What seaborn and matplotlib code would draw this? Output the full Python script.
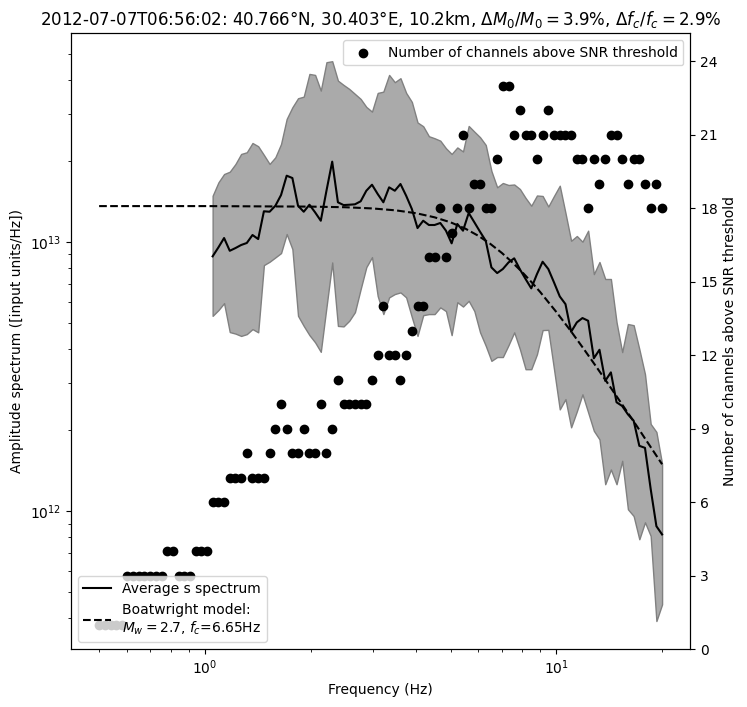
"""
Spectrum of the s-wave with Boatwright fit and SNR channel count
"""

import numpy as np
import matplotlib
matplotlib.use('Agg')
import matplotlib.pyplot as plt
import seaborn as sns

# Frequency grid (Hz)
FREQ = [0.500, 0.519, 0.539, 0.559, 0.580, 0.602, 0.625, 0.649, 0.673, 0.699,
        0.725, 0.753, 0.781, 0.811, 0.842, 0.874, 0.907, 0.941, 0.977, 1.014,
        1.052, 1.093, 1.134, 1.177, 1.222, 1.268, 1.316, 1.366, 1.418, 1.472,
        1.528, 1.587, 1.647, 1.709, 1.774, 1.841, 1.911, 1.984, 2.059, 2.137,
        2.218, 2.303, 2.391, 2.481, 2.575, 2.673, 2.775, 2.880, 2.989, 3.103,
        3.220, 3.344, 3.471, 3.602, 3.739, 3.881, 4.028, 4.181, 4.340, 4.504,
        4.676, 4.853, 5.037, 5.228, 5.427, 5.633, 5.846, 6.068, 6.298, 6.537,
        6.788, 7.045, 7.312, 7.590, 7.878, 8.177, 8.487, 8.809, 9.143, 9.490,
        9.851, 10.23, 10.62, 11.02, 11.44, 11.87, 12.32, 12.79, 13.27, 13.78,
        14.30, 14.84, 15.40, 15.99, 16.60, 17.23, 17.88, 18.56, 19.27, 20.00]

# Number of channels above SNR threshold, one per frequency
N_CHANNELS = [1, 1, 1, 1, 1, 3, 3, 3, 3, 3,
              3, 3, 4, 4, 3, 3, 3, 4, 4, 4,
              6, 6, 6, 7, 7, 7, 8, 7, 7, 7,
              8, 9, 10, 9, 8, 8, 9, 8, 8, 10,
              8, 9, 11, 10, 10, 10, 10, 10, 11, 12,
              14, 12, 12, 11, 12, 13, 14, 14, 16, 16,
              18, 16, 17, 18, 21, 18, 19, 19, 18, 18,
              20, 23, 23, 21, 22, 21, 21, 20, 21, 22,
              21, 21, 21, 21, 20, 20, 18, 20, 19, 20,
              21, 21, 20, 19, 20, 20, 19, 18, 19, 18]

# Spectrum starts at the 21st frequency (~1.05 Hz); values in 1e12 input units/Hz
SPEC_START = 20
SPEC_MEAN = [8.85, 9.56, 10.35, 9.28, 9.50, 9.75, 9.92, 10.62, 10.26, 13.01,
             12.96, 13.64, 14.95, 17.64, 17.29, 13.64, 12.96, 13.76, 12.89, 12.00,
             15.51, 19.89, 14.05, 13.72, 13.76, 13.81, 14.17, 15.51, 16.33, 15.08,
             14.05, 15.97, 15.51, 16.43, 14.86, 13.27, 11.27, 12.00, 11.57, 11.57,
             11.77, 11.02, 9.89, 11.67, 11.02, 12.82, 11.84, 10.92, 10.11, 8.05,
             7.67, 7.94, 8.40, 8.70, 7.92, 7.29, 6.73, 7.60, 8.45, 7.94,
             7.08, 6.28, 5.88, 4.64, 5.03, 5.22, 5.10, 3.70, 3.98, 3.05,
             3.28, 2.54, 2.46, 2.29, 2.17, 1.75, 1.72, 1.21, 0.88, 0.82]
SPEC_HIGH = [14.86, 16.67, 17.89, 18.25, 19.50, 21.24, 21.55, 23.33, 22.69, 21.06,
             19.50, 20.65, 23.13, 28.66, 31.67, 34.21, 34.68, 42.12, 41.76, 36.52,
             46.56, 46.96, 39.77, 38.33, 37.05, 35.50, 34.01, 31.76, 30.51, 35.80,
             36.20, 41.76, 39.24, 40.61, 35.80, 33.15, 27.81, 26.92, 24.72, 24.30,
             23.80, 22.30, 21.24, 22.46, 21.70, 26.99, 25.70, 24.51, 22.94, 18.36,
             15.97, 16.57, 16.29, 16.36, 15.74, 14.58, 13.64, 14.89, 14.83, 13.55,
             14.83, 16.19, 12.82, 10.11, 10.53, 10.03, 11.02, 7.60, 8.43, 7.29,
             7.29, 5.04, 3.90, 4.96, 4.91, 4.00, 3.23, 2.11, 1.97, 1.50]
SPEC_LOW = [5.32, 5.59, 5.93, 4.63, 4.57, 4.48, 4.55, 4.75, 4.62, 8.21,
            8.45, 8.77, 9.10, 10.71, 9.42, 5.32, 4.88, 4.51, 4.24, 3.91,
            5.73, 8.40, 4.88, 4.86, 5.10, 5.49, 6.69, 8.07, 8.79, 6.30,
            5.40, 6.23, 6.41, 6.50, 6.23, 5.26, 4.48, 5.35, 5.40, 5.40,
            5.72, 5.54, 4.51, 5.98, 5.76, 6.05, 5.54, 4.62, 4.12, 3.62,
            3.74, 3.74, 4.14, 4.62, 4.00, 3.37, 3.37, 3.83, 4.71, 4.72,
            3.37, 2.39, 2.61, 2.05, 2.35, 2.72, 2.33, 1.99, 1.85, 1.26,
            1.43, 1.26, 1.54, 1.017, 0.96, 0.787, 0.91, 0.81, 0.391, 0.451]

# Boatwright model curve (Mw 2.7, fc 6.65 Hz), values in 1e12 units
MODEL_FREQ = [0.5, 1.0, 2.0, 2.5, 3.0, 3.5, 4.0, 4.5, 5.0, 5.5, 6.0, 6.5, 7.0, 7.5,
              8.0, 8.5, 9.0, 10.0, 11.0, 12.0, 13.0, 14.0, 15.0, 16.0, 17.0,
              18.0, 19.0, 20.0]
MODEL_AMP = [13.60, 13.60, 13.54, 13.47, 13.33, 13.11, 12.79, 12.36, 11.84, 11.23,
             10.55, 9.83, 9.11, 8.40, 7.73, 7.10, 6.52, 5.50, 4.67, 3.99, 3.44,
             2.99, 2.62, 2.315, 2.06, 1.839, 1.654, 1.495]

UNIT = 1e12

TITLE = ('2012-07-07T06:56:02: 40.766°N, 30.403°E, 10.2km, '
         r'$\Delta M_0/M_0=3.9\%$, $\Delta f_c/f_c=2.9\%$')


def main():
    f_spec = np.array(FREQ[SPEC_START:])
    mean = np.array(SPEC_MEAN) * UNIT
    high = np.array(SPEC_HIGH) * UNIT
    low = np.array(SPEC_LOW) * UNIT

    fig = plt.figure(figsize=(7.47, 7.07), dpi=100)
    ax = fig.add_axes([0.095, 0.082, 0.829, 0.871])
    ax.set_xscale('log')
    ax.set_yscale('log')

    # полоса разброса спектров
    ax.fill_between(f_spec, low, high, facecolor='#aaaaaa', edgecolor='#808080', linewidth=1)

    sns.lineplot(x=f_spec, y=mean, ax=ax, color='k', linewidth=1.5,
                 estimator=None, sort=False, label='Average s spectrum')
    sns.lineplot(x=MODEL_FREQ, y=np.array(MODEL_AMP) * UNIT, ax=ax, color='k',
                 linestyle='--', linewidth=1.5, estimator=None, sort=False,
                 label='Boatwright model:\n$M_w=2.7$, $f_c$=6.65Hz')
    handles, labels = ax.get_legend_handles_labels()
    if ax.get_legend() is not None:
        ax.get_legend().remove()

    ax.set_xlabel('Frequency (Hz)')
    ax.set_ylabel('Amplitude spectrum ([input units/Hz])')
    ax.set_title(TITLE, fontsize=12)

    # число каналов на второй оси
    ax2 = ax.twinx()
    sns.scatterplot(x=FREQ, y=N_CHANNELS, ax=ax2, color='k', s=36,
                    edgecolor='k', linewidth=1, zorder=3,
                    label='Number of channels above SNR threshold')
    ax2.set_ylim(0, 25.15)
    ax2.set_yticks(range(0, 25, 3))
    ax2.set_ylabel('Number of channels above SNR threshold')

    leg_lines = ax2.legend(handles, labels, loc='lower left')
    ax2.add_artist(leg_lines)
    ax2.legend(loc='upper right')

    fig.savefig('out.png', dpi=100, facecolor='white')


if __name__ == '__main__':
    main()
